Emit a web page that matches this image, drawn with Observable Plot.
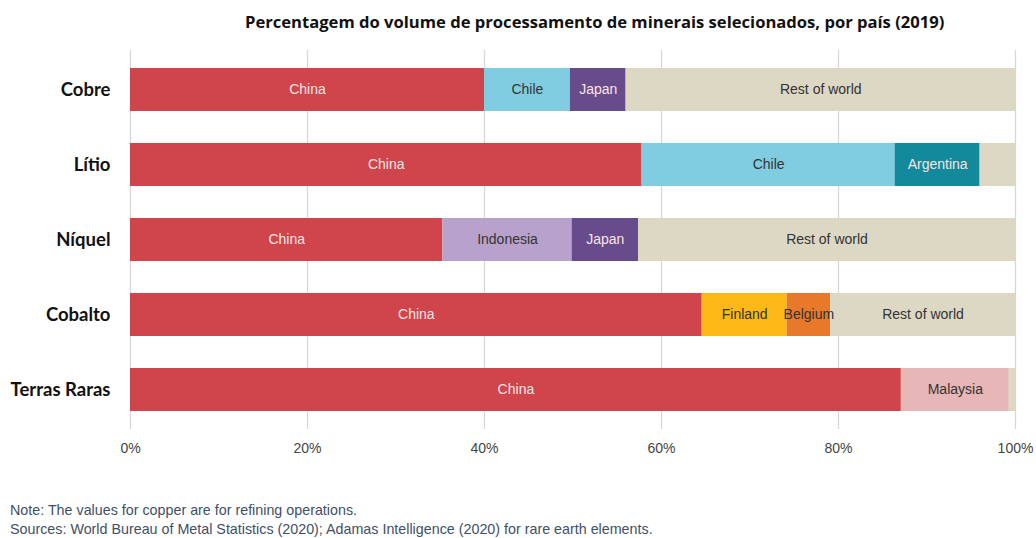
<!DOCTYPE html>
<html>
<head>
<meta charset="utf-8">
<script src="https://cdn.jsdelivr.net/npm/d3@7"></script>
<script src="https://cdn.jsdelivr.net/npm/@observablehq/plot@0.6"></script>
<style>
  html, body { margin: 0; padding: 0; background: #ffffff; }
  body { width: 1036px; height: 538px; overflow: hidden; position: relative; font-family: "Liberation Sans", Arial, sans-serif; }
  #title { height: 44px; line-height: 44px; padding-left: 245px; font-family: "Open Sans", sans-serif; font-weight: bold; font-size: 16.6px; color: #111; white-space: nowrap; }
  #chart { height: 420px; }
  #notes { position: absolute; left: 10px; top: 501px; font-size: 14.3px; line-height: 19px; color: #3f4f68; white-space: nowrap; }
</style>
</head>
<body>
<div id="title">Percentagem do volume de processamento de minerais selecionados, por país (2019)</div>
<div id="chart"></div>
<div id="notes">
  <div>Note: The values for copper are for refining operations.</div>
  <div>Sources: World Bureau of Metal Statistics (2020); Adamas Intelligence (2020) for rare earth elements.</div>
</div>
<script>
// ---- data (percent shares) ----
const minerals = ["Cobre", "Lítio", "Níquel", "Cobalto", "Terras Raras"];

const cobreCountries = ["China", "Chile", "Japan", "Rest of world"];
const cobreShares    = [40.0, 9.7, 6.3, 44.0];

const litioCountries = ["China", "Chile", "Argentina", "Rest of world"];
const litioShares    = [57.8, 28.6, 9.6, 4.0];

const niquelCountries = ["China", "Indonesia", "Japan", "Rest of world"];
const niquelShares    = [35.3, 14.6, 7.5, 42.6];

const cobaltoCountries = ["China", "Finland", "Belgium", "Rest of world"];
const cobaltoShares    = [64.6, 9.6, 4.9, 20.9];

const terrasCountries = ["China", "Malaysia", "Rest of world"];
const terrasShares    = [87.1, 12.2, 0.7];

const xTicks = [0, 20, 40, 60, 80, 100];

// ---- styling ----
const colorDomain = ["China", "Chile", "Japan", "Argentina", "Indonesia", "Finland", "Belgium", "Malaysia", "Rest of world"];
const colorRange  = ["#cf454b", "#80cde1", "#684b8b", "#128a9b", "#b8a2cc", "#fcb814", "#e8792a", "#e7b6b7", "#ddd8c4"];
const lightLabel = ["China", "Japan", "Argentina"];

const countryLists = [cobreCountries, litioCountries, niquelCountries, cobaltoCountries, terrasCountries];
const shareLists   = [cobreShares, litioShares, niquelShares, cobaltoShares, terrasShares];

const rows = minerals.flatMap((m, i) =>
  countryLists[i].map((c, j) => ({mineral: m, country: c, share: shareLists[i][j]}))
);

const shown = d => d.share >= 4.5;

const plot = Plot.plot({
  width: 1036,
  height: 420,
  marginLeft: 130,
  marginRight: 21,
  marginTop: 6,
  marginBottom: 35,
  style: {background: "#ffffff", fontFamily: "Liberation Sans, Arial, sans-serif"},
  x: {domain: [0, 100], ticks: xTicks},
  y: {domain: minerals, paddingInner: 0.43, paddingOuter: 0.215},
  color: {domain: colorDomain, range: colorRange},
  marks: [
    Plot.gridX(xTicks, {stroke: "#d6d6d6", strokeOpacity: 1, strokeWidth: 1.2}),
    Plot.barX(rows, Plot.stackX({x: "share", y: "mineral", fill: "country"})),
    Plot.text(rows, Plot.stackX({
      x: "share", y: "mineral",
      text: d => (shown(d) && lightLabel.includes(d.country)) ? d.country : "",
      fill: "#f8e4e4", fontSize: 14
    })),
    Plot.text(rows, Plot.stackX({
      x: "share", y: "mineral",
      text: d => (shown(d) && !lightLabel.includes(d.country)) ? d.country : "",
      fill: "#333333", fontSize: 14
    })),
    Plot.axisX({ticks: xTicks, tickFormat: d => d + "%", tickSize: 0, tickPadding: 14, fontSize: 14, fill: "#444", label: null}),
    Plot.axisY({tickSize: 0, tickPadding: 20, fontSize: 18.5, fontWeight: "bold", fontFamily: "Lato, sans-serif", fill: "#111", label: null})
  ]
});
document.getElementById("chart").appendChild(plot);
</script>
</body>
</html>
